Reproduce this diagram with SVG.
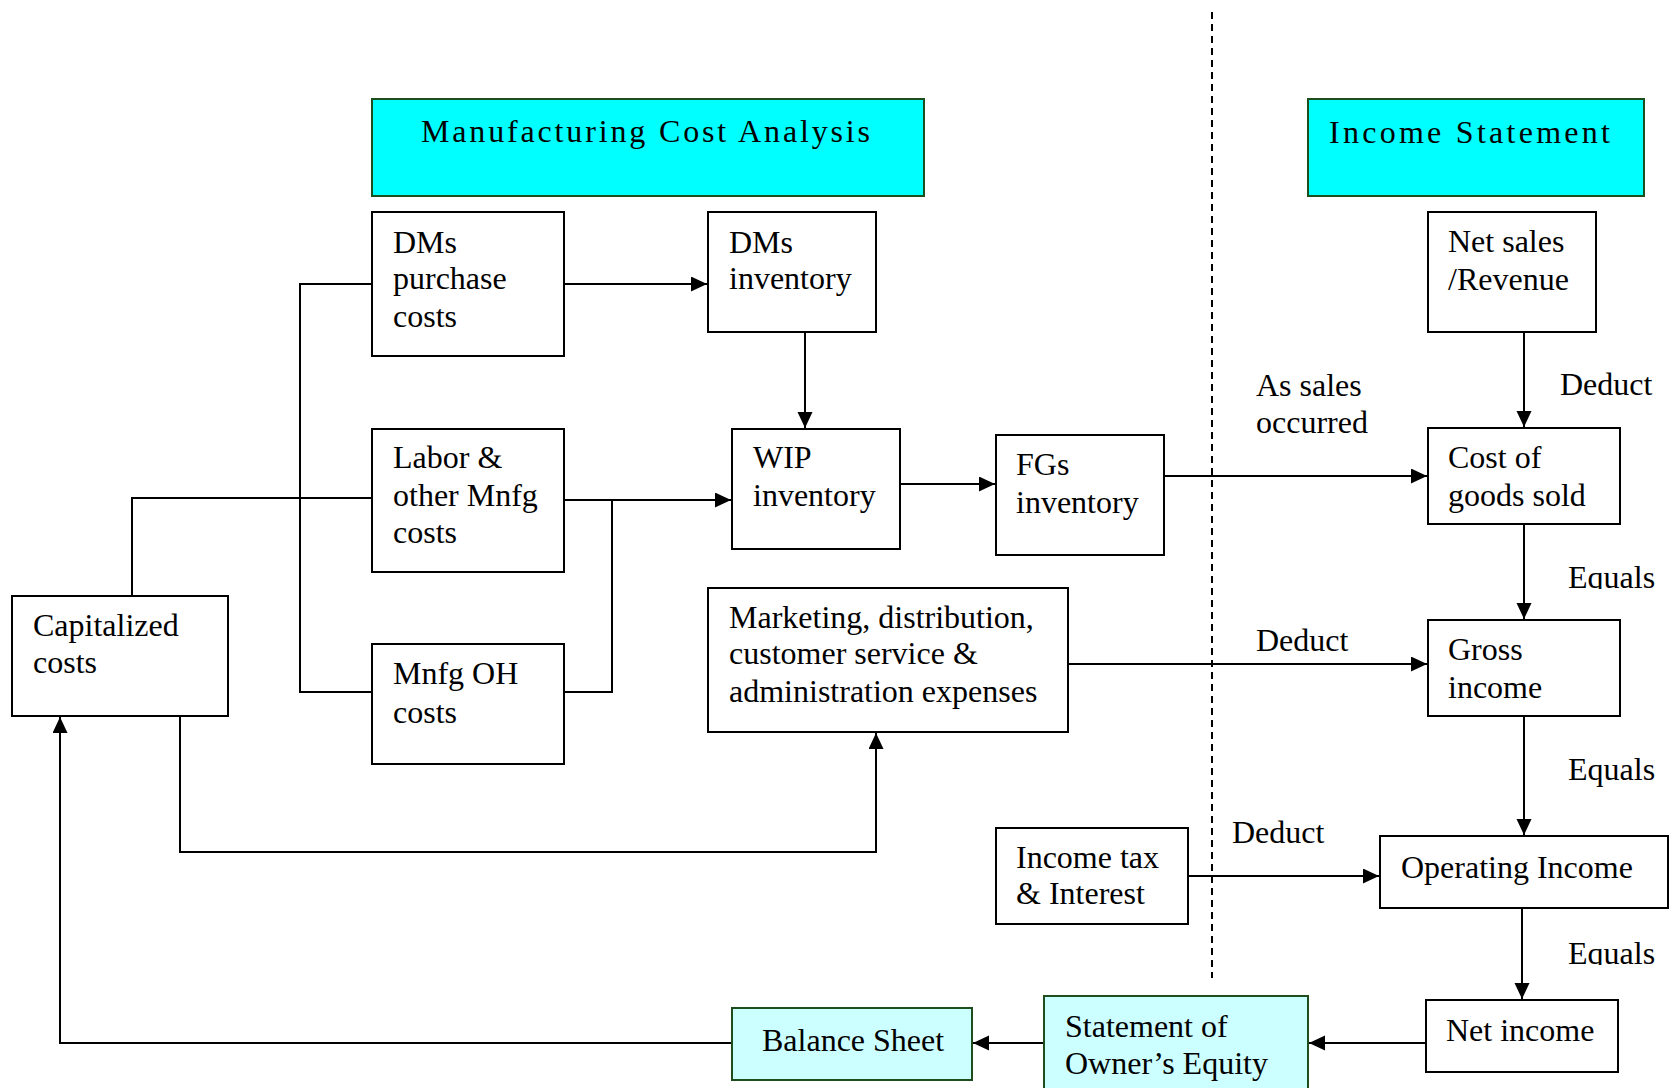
<svg xmlns="http://www.w3.org/2000/svg" width="1673" height="1088" viewBox="0 0 1673 1088">
<style>
  .box { fill: #ffffff; stroke: #000000; stroke-width: 2; }
  .hdr { fill: #00FFFF; stroke: #1E4D1E; stroke-width: 2; }
  .lt { fill: #CCFFFF; stroke: #1E4D1E; stroke-width: 2; }
  text { font-family: "Liberation Serif", "Times New Roman", serif; font-size: 32px; fill: #000000; }
  .conn path { fill: none; stroke: #000000; stroke-width: 2; }
  .dash { fill: none; stroke: #000000; stroke-width: 2; stroke-dasharray: 7 5; }
</style>
<defs>
  <marker id="arr" markerUnits="userSpaceOnUse" markerWidth="17" markerHeight="16" refX="16" refY="7.5" orient="auto">
    <path d="M0,0 L16,7.5 L0,15 z" fill="#000000"/>
  </marker>
  <clipPath id="clipEq1"><rect x="1500" y="540" width="173" height="49"/></clipPath>
  <clipPath id="clipEq3"><rect x="1500" y="920" width="173" height="45"/></clipPath>
</defs>
<rect x="0" y="0" width="1673" height="1088" fill="#ffffff"/>

<g class="conn">
  <path class="dash" d="M1212,12 V978"/>
  <path d="M564,284 H707" marker-end="url(#arr)"/>
  <path d="M805,332 V428" marker-end="url(#arr)"/>
  <path d="M564,500 H731" marker-end="url(#arr)"/>
  <path d="M564,692 H612 V500"/>
  <path d="M372,284 H300 V692 H372"/>
  <path d="M372,498 H132 V596"/>
  <path d="M900,484 H995" marker-end="url(#arr)"/>
  <path d="M1164,476 H1427" marker-end="url(#arr)"/>
  <path d="M1524,332 V427" marker-end="url(#arr)"/>
  <path d="M1524,524 V619" marker-end="url(#arr)"/>
  <path d="M1524,716 V835" marker-end="url(#arr)"/>
  <path d="M1068,664 H1427" marker-end="url(#arr)"/>
  <path d="M1188,876 H1379" marker-end="url(#arr)"/>
  <path d="M1522,908 V999" marker-end="url(#arr)"/>
  <path d="M1426,1043 H1309" marker-end="url(#arr)"/>
  <path d="M1044,1043 H973" marker-end="url(#arr)"/>
  <path d="M732,1043 H60 V717" marker-end="url(#arr)"/>
  <path d="M180,716 V852 H876 V733" marker-end="url(#arr)"/>
</g>

<g id="labels">
  <text x="1256" y="396">As sales</text>
  <text x="1256" y="433">occurred</text>
  <text x="1560" y="395">Deduct</text>
  <text x="1568" y="588" clip-path="url(#clipEq1)">Equals</text>
  <text x="1256" y="651">Deduct</text>
  <text x="1568" y="780">Equals</text>
  <text x="1232" y="843">Deduct</text>
  <text x="1568" y="964" clip-path="url(#clipEq3)">Equals</text>
</g>

<g id="mca">
  <rect class="hdr" x="372" y="99" width="552" height="97"/>
  <text x="421" y="142" textLength="449" lengthAdjust="spacing">Manufacturing Cost Analysis</text>
</g>
<g id="income-statement">
  <rect class="hdr" x="1308" y="99" width="336" height="97"/>
  <text x="1329" y="143" textLength="281" lengthAdjust="spacing">Income Statement</text>
</g>
<g id="dms-purchase">
  <rect class="box" x="372" y="212" width="192" height="144"/>
  <text x="393" y="253">DMs</text>
  <text x="393" y="289">purchase</text>
  <text x="393" y="327">costs</text>
</g>
<g id="dms-inventory">
  <rect class="box" x="708" y="212" width="168" height="120"/>
  <text x="729" y="253">DMs</text>
  <text x="729" y="289">inventory</text>
</g>
<g id="labor">
  <rect class="box" x="372" y="429" width="192" height="143"/>
  <text x="393" y="468">Labor &amp;</text>
  <text x="393" y="506">other Mnfg</text>
  <text x="393" y="543">costs</text>
</g>
<g id="mnfg-oh">
  <rect class="box" x="372" y="644" width="192" height="120"/>
  <text x="393" y="684">Mnfg OH</text>
  <text x="393" y="723">costs</text>
</g>
<g id="capitalized">
  <rect class="box" x="12" y="596" width="216" height="120"/>
  <text x="33" y="636">Capitalized</text>
  <text x="33" y="673">costs</text>
</g>
<g id="wip">
  <rect class="box" x="732" y="429" width="168" height="120"/>
  <text x="753" y="468">WIP</text>
  <text x="753" y="506">inventory</text>
</g>
<g id="fgs">
  <rect class="box" x="996" y="435" width="168" height="120"/>
  <text x="1016" y="475">FGs</text>
  <text x="1016" y="513">inventory</text>
</g>
<g id="marketing">
  <rect class="box" x="708" y="588" width="360" height="144"/>
  <text x="729" y="628">Marketing, distribution,</text>
  <text x="729" y="664">customer service &amp;</text>
  <text x="729" y="702">administration expenses</text>
</g>
<g id="income-tax">
  <rect class="box" x="996" y="828" width="192" height="96"/>
  <text x="1016" y="868">Income tax</text>
  <text x="1016" y="904">&amp; Interest</text>
</g>
<g id="net-sales">
  <rect class="box" x="1428" y="212" width="168" height="120"/>
  <text x="1448" y="252">Net sales</text>
  <text x="1448" y="290">/Revenue</text>
</g>
<g id="cogs">
  <rect class="box" x="1428" y="428" width="192" height="96"/>
  <text x="1448" y="468">Cost of</text>
  <text x="1448" y="506">goods sold</text>
</g>
<g id="gross-income">
  <rect class="box" x="1428" y="620" width="192" height="96"/>
  <text x="1448" y="660">Gross</text>
  <text x="1448" y="698">income</text>
</g>
<g id="operating-income">
  <rect class="box" x="1380" y="836" width="288" height="72"/>
  <text x="1401" y="878">Operating Income</text>
</g>
<g id="net-income">
  <rect class="box" x="1426" y="1000" width="192" height="72"/>
  <text x="1446" y="1041">Net income</text>
</g>
<g id="owners-equity">
  <rect class="lt" x="1044" y="996" width="264" height="100"/>
  <text x="1065" y="1037">Statement of</text>
  <text x="1065" y="1074">Owner’s Equity</text>
</g>
<g id="balance-sheet">
  <rect class="lt" x="732" y="1008" width="240" height="72"/>
  <text x="762" y="1051">Balance Sheet</text>
</g>
</svg>
